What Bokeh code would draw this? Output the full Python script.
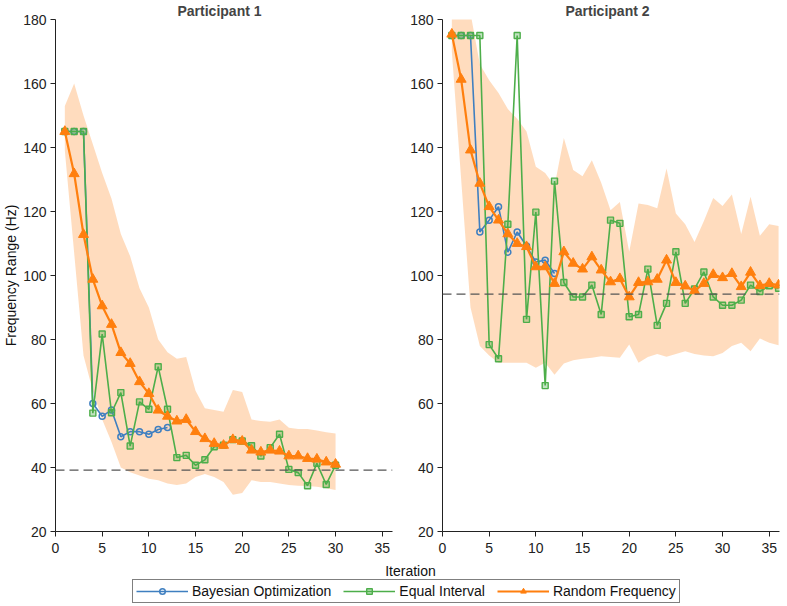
from bokeh.plotting import figure
from bokeh.models import Span, Legend, LegendItem, Label
from bokeh.layouts import row, column
from bokeh.embed import file_html
from bokeh.resources import INLINE

# ---------------- data ----------------
iter_p1 = list(range(1, 31))
iter_p1_bo = list(range(1, 13))
bo_p1 = [145, 145, 145, 60, 56, 58, 49.6, 51.2, 51.2, 50.4, 51.9, 52.5]
ei_p1 = [145, 145, 145, 57, 81.7, 57.1, 63.4, 46.7, 60.5, 58.2, 71.5, 58.2, 43.1, 43.8, 40.7,
         42.4, 46.5, 47, 48.7, 48.3, 46.8, 43.6, 46.2, 50.4, 39.4, 38.4, 34.3, 41.3, 34.7, 40.7]
rf_p1 = [145, 131.8, 112.8, 98.8, 90.5, 84.7, 75.9, 72.5, 66.8, 63.1, 57.9, 56, 54.5, 55, 51.2,
         49, 47.5, 46.9, 48.7, 48.2, 45.4, 44.8, 45.4, 45.1, 43.6, 43.6, 42.8, 42.6, 41.7, 41]
rf_p1_hi = [153, 160, 150, 141, 132, 124, 113, 106, 96, 90, 80, 76, 74, 74.5, 64,
            58.5, 58, 57.4, 64.2, 63.6, 55, 54.5, 54.3, 55, 52.4, 52, 52, 51.6, 51, 50.6]
rf_p1_lo = [139, 107, 75, 64, 55, 48, 40, 38.5, 37.5, 36.5, 36, 35, 34.5, 35, 37,
            38, 37, 35.5, 31.5, 32, 36, 35.5, 35.5, 35, 34.5, 34.3, 34.2, 34, 33.5, 33]
ref_p1 = 39.2

iter_p2 = list(range(1, 37))
iter_p2_bo = list(range(1, 13))
bo_p2 = [175, 175, 175, 113.6, 117.3, 121.5, 107.3, 113.6, 109.2, 104.2, 104.8, 100.6]
ei_p2 = [175, 175, 175, 175, 78.4, 74, 116, 175, 86.3, 119.8, 65.6, 129.5, 97.8, 93.3, 93.3, 97,
         87.8, 117.3, 116.3, 87.1, 87.8, 102, 84.4, 91.3, 107.4, 91.3, 95.8, 101.1, 93.3, 90.7,
         90.7, 92.3, 97, 95, 96.8, 96]
rf_p2 = [175.4, 161.3, 139.2, 128.8, 121.5, 117.3, 113, 110, 109, 102.7, 102.7, 97.5, 107.4, 103.8,
         102, 105.8, 101.7, 98, 99, 93.3, 97.8, 98, 98.8, 104.8, 97.8, 96.7, 95.2, 97.5, 100.3, 99.3,
         100.6, 96.5, 101, 96.8, 97.5, 97]
rf_p2_hi = [186, 190, 182, 166, 161, 157, 152, 149, 145, 134, 132, 128, 143, 133, 131, 136, 129,
            120.4, 123, 107.4, 122.5, 122, 121, 133.4, 119.4, 116, 110.5, 117, 124.2, 121.7, 125.3,
            113, 124.6, 112.4, 116, 115.5]
rf_p2_lo = [170, 130, 90, 78, 75, 72.7, 72.7, 72.7, 72.7, 71.2, 72.7, 69, 72.5, 73.5, 74, 74.3, 74.8,
            74.5, 74.3, 78.4, 72.7, 74.5, 75.5, 74.6, 75.5, 76.3, 75.5, 75, 74.8, 75.8, 78, 79, 76.3,
            80.3, 79, 78.2]
ref_p2 = 94.2

titles = ["Participant 1", "Participant 2"]
series_names = ["Bayesian Optimization", "Equal Interval", "Random Frequency"]
x_ticks = [0, 5, 10, 15, 20, 25, 30, 35]
y_ticks = [20, 40, 60, 80, 100, 120, 140, 160, 180]
x_label = "Iteration"
y_label = "Frequency Range (Hz)"

# ---------------- style ----------------
FONT = "Liberation Sans"
FS = "14px"
BLUE = "#3f7fc0"
GREEN = "#4dae4a"
ORANGE = "#ff7f0e"
BAND = "#ff7f0e"


def add_series(p, it, it_bo, bo, ei, rf, sizes):
    r = {}
    r["bl"] = p.line(it_bo, bo, line_color=BLUE, line_width=1.6)
    r["bm"] = p.scatter(it_bo, bo, marker="circle", size=sizes[0], line_color=BLUE, line_width=1.5,
                        fill_color="white", fill_alpha=0)
    r["gl"] = p.line(it, ei, line_color=GREEN, line_width=1.6)
    r["gm"] = p.scatter(it, ei, marker="square", size=sizes[1], line_color=GREEN, line_width=1.4,
                        fill_color=GREEN, fill_alpha=0.35)
    r["ol"] = p.line(it, rf, line_color=ORANGE, line_width=2.2)
    r["om"] = p.scatter(it, rf, marker="triangle", size=sizes[2], line_color=ORANGE,
                        fill_color=ORANGE)
    return r


def panel(title, title_shift, it, it_bo, bo, ei, rf, hi, lo, ref, left_border, right_border, ylab):
    p = figure(frame_width=337, frame_height=512, x_range=(0, 36.1), y_range=(20, 180),
               toolbar_location=None, output_backend="svg",
               min_border_left=left_border, min_border_right=right_border,
               min_border_top=13, min_border_bottom=27)
    p.title.text = title
    p.title.align = "left"
    p.title.offset = title_shift
    p.title.text_font = FONT
    p.title.text_font_size = FS
    p.title.text_font_style = "bold"
    p.title.standoff = 1
    p.outline_line_color = None
    p.grid.visible = False
    for ax in (p.xaxis[0], p.yaxis[0]):
        ax.axis_line_color = "#222222"
        ax.major_tick_line_color = "#222222"
        ax.minor_tick_line_color = None
        ax.major_tick_in = 0
        ax.major_tick_out = 5
        ax.major_label_text_font = FONT
        ax.major_label_text_font_size = FS
        ax.major_label_text_color = "#222222"
        ax.major_label_standoff = 4
        ax.axis_label_text_font = FONT
        ax.axis_label_text_font_size = FS
        ax.axis_label_text_font_style = "normal"
        ax.axis_label_text_color = "#111111"
        ax.axis_label_standoff = 1
    p.xaxis.major_label_standoff = 6
    p.xaxis.ticker = x_ticks
    p.yaxis.ticker = y_ticks
    if ylab:
        p.yaxis.axis_label = ylab

    p.varea(x=it, y1=lo, y2=hi, fill_color=BAND, fill_alpha=0.27)
    p.add_layout(Span(location=ref, dimension="width", line_color="#555555",
                      line_width=1.3, line_dash="9 5"))
    add_series(p, it, it_bo, bo, ei, rf, (6, 6, 10))
    return p


p1 = panel(titles[0], 122, iter_p1, iter_p1_bo, bo_p1, ei_p1, rf_p1, rf_p1_hi, rf_p1_lo, ref_p1,
           48, 10, y_label)
p2 = panel(titles[1], 123, iter_p2, iter_p2_bo, bo_p2, ei_p2, rf_p2, rf_p2_hi, rf_p2_lo, ref_p2,
           40, 2, None)

# bottom strip: shared x label and legend (series drawn out of view, used only for legend glyphs)
pb = figure(width=777, height=46, x_range=(-3, -2), y_range=(-3, -2), toolbar_location=None,
            output_backend="svg", x_axis_type=None, y_axis_type=None, min_border=0)
pb.outline_line_color = None
pb.grid.visible = False
rb = add_series(pb, iter_p1, iter_p1_bo, bo_p1, ei_p1, rf_p1, (5, 5, 8))
legend = Legend(items=[LegendItem(label=series_names[0], renderers=[rb["bl"], rb["bm"]]),
                       LegendItem(label=series_names[1], renderers=[rb["gl"], rb["gm"]]),
                       LegendItem(label=series_names[2], renderers=[rb["ol"], rb["om"]])],
                orientation="horizontal", location=(132, 1),
                border_line_color="black", border_line_width=1,
                background_fill_alpha=1, label_text_font=FONT, label_text_font_size=FS,
                label_text_color="#111111",
                glyph_width=52, glyph_height=14, label_standoff=4, spacing=12,
                padding=3, margin=0, label_height=14)
pb.add_layout(legend, "center")
pb.add_layout(Label(x=410, y=34, x_units="screen", y_units="screen", text=x_label,
                    text_align="center", text_baseline="middle", text_font=FONT,
                    text_font_size=FS, text_color="#111111"))

layout = column(row(p1, p2), pb)
open("out.html", "w").write(file_html(layout, INLINE))
